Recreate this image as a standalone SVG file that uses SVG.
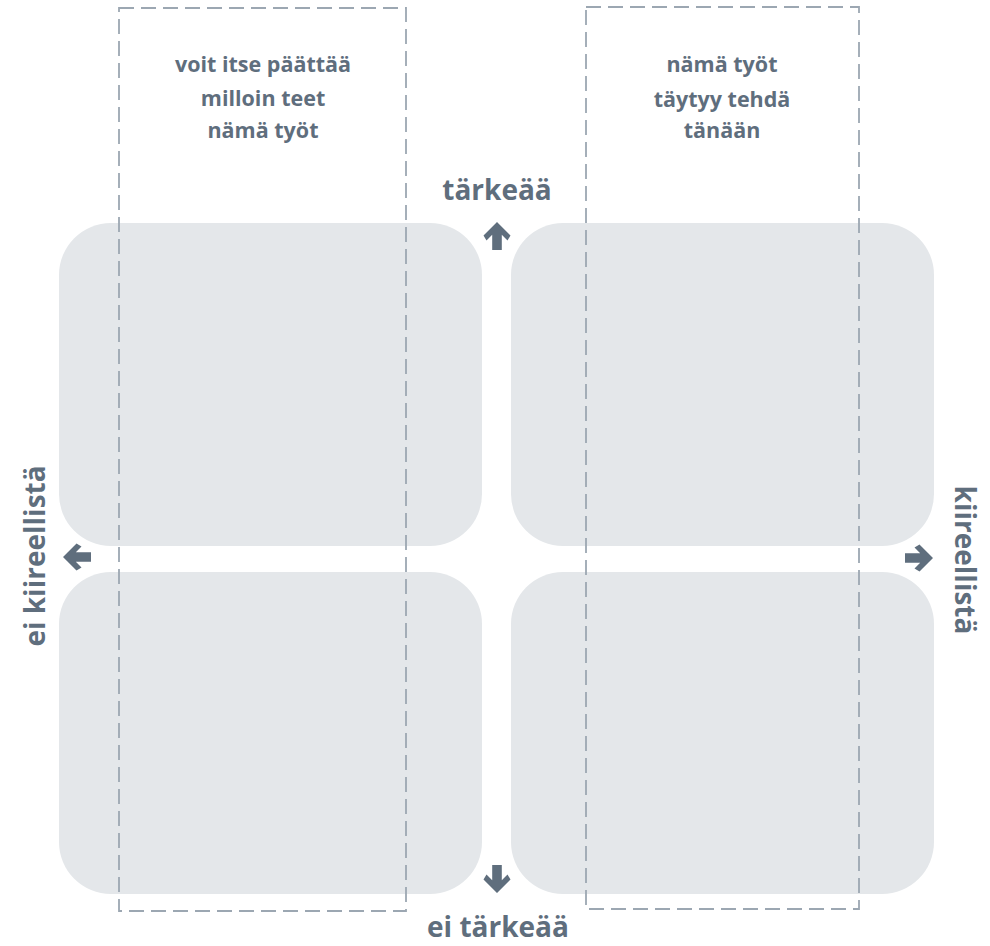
<svg xmlns="http://www.w3.org/2000/svg" width="990" height="946" viewBox="0 0 990 946">
<style>
.quad{fill:#e4e7ea;}
.band{fill:none;stroke:#9ca7b2;stroke-width:1.8;stroke-dasharray:15 7;}
.lbl{font-family:"Open Sans","Liberation Sans",sans-serif;font-weight:700;fill:#5f6e7d;text-anchor:middle;}
.axis{font-size:28px;}
.note{font-size:21.5px;}
.arr{fill:#5f6e7d;}
</style>
<defs>
<path id="arrow" d="M0,0 L13.5,13.5 L10.5,18.5 L4.8,12.8 L4.8,28 L-4.8,28 L-4.8,12.8 L-10.5,18.5 L-13.5,13.5 Z"/>
</defs>
<g id="q-top-left"><rect class="quad" x="59" y="223" width="423" height="323" rx="52"/></g>
<g id="q-top-right"><rect class="quad" x="511" y="223" width="423" height="323" rx="52"/></g>
<g id="q-bottom-left"><rect class="quad" x="59" y="572" width="423" height="322" rx="52"/></g>
<g id="q-bottom-right"><rect class="quad" x="511" y="572" width="423" height="322" rx="52"/></g>
<g id="band-left">
<rect class="band" x="119" y="8" width="287" height="903"/>
<text class="lbl note" x="263" y="72">voit itse päättää</text>
<text class="lbl note" x="263" y="106">milloin teet</text>
<text class="lbl note" x="263" y="138">nämä työt</text>
</g>
<g id="band-right">
<rect class="band" x="586" y="7" width="273" height="902"/>
<text class="lbl note" x="722" y="72">nämä työt</text>
<text class="lbl note" x="722" y="107">täytyy tehdä</text>
<text class="lbl note" x="722" y="138">tänään</text>
</g>
<g id="connectors">
<use href="#arrow" class="arr" transform="translate(497,222)"/>
<use href="#arrow" class="arr" transform="translate(497,893) rotate(180)"/>
<use href="#arrow" class="arr" transform="translate(63,557) rotate(-90)"/>
<use href="#arrow" class="arr" transform="translate(933,558) rotate(90)"/>
</g>
<g id="label-top"><text class="lbl axis" x="497" y="200">tärkeää</text></g>
<g id="label-bottom"><text class="lbl axis" x="498" y="937">ei tärkeää</text></g>
<g id="label-left"><text class="lbl axis" transform="translate(45,556) rotate(-90)">ei kiireellistä</text></g>
<g id="label-right"><text class="lbl axis" transform="translate(955,560) rotate(90)">kiireellistä</text></g>
</svg>
